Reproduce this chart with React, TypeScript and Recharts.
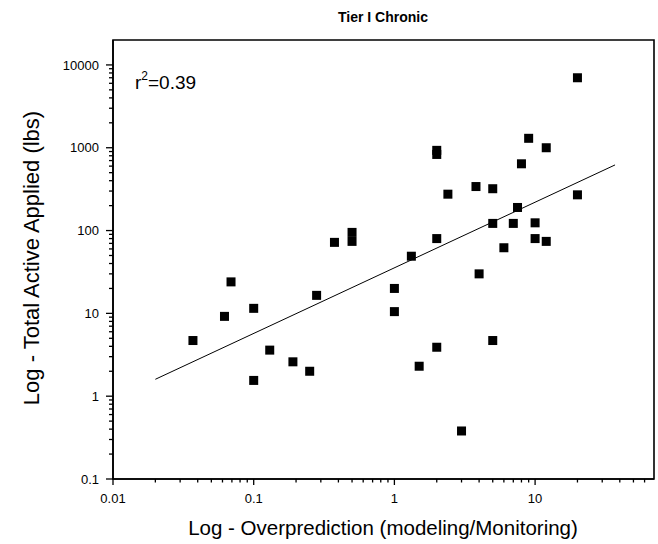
import React from "react";
import { ScatterChart, Scatter, XAxis, YAxis, ReferenceArea } from "recharts";

// Scatter data: overprediction ratio (x) vs total active applied, lbs (y)
const xVals = [
  0.037, 0.062, 0.069, 0.1, 0.1, 0.13, 0.19, 0.25, 0.28,
  0.375, 0.5, 0.5,
  20, 9, 12, 2, 2, 8, 3.8, 5, 2.4, 20, 7.5, 5, 7, 10, 2, 10, 12, 6, 1.32, 4,
  1, 1, 5, 2, 1.5, 3,
];
const yVals = [
  4.7, 9.2, 24, 11.5, 1.55, 3.6, 2.6, 2.0, 16.5,
  72, 95, 74,
  7000, 1300, 1000, 930, 830, 640, 340, 320, 275, 270, 190, 122, 122, 124, 80, 80, 74, 62, 49, 30,
  20, 10.5, 4.7, 3.9, 2.3, 0.38,
];

// Regression line end points
const fitX = [0.02, 37];
const fitY = [1.6, 620];

const xMajorTicks = [0.01, 0.1, 1, 10];
const xMinorTicks = [
  0.02, 0.03, 0.04, 0.05, 0.06, 0.07, 0.08, 0.09,
  0.2, 0.3, 0.4, 0.5, 0.6, 0.7, 0.8, 0.9,
  2, 3, 4, 5, 6, 7, 8, 9,
  20, 30, 40, 50, 60,
];
const yMajorTicks = [0.1, 1, 10, 100, 1000, 10000];
const yMinorTicks = [
  0.2, 0.3, 0.4, 0.5, 0.6, 0.7, 0.8, 0.9,
  2, 3, 4, 5, 6, 7, 8, 9,
  20, 30, 40, 50, 60, 70, 80, 90,
  200, 300, 400, 500, 600, 700, 800, 900,
  2000, 3000, 4000, 5000, 6000, 7000, 8000, 9000,
];

const xDomain = [0.01, 70];
const yDomain = [0.1, 20000];

const title = "Tier I Chronic";
const xTitle = "Log - Overprediction (modeling/Monitoring)";
const yTitle = "Log - Total Active Applied (lbs)";

const FONT = "'Liberation Sans', Arial, sans-serif";

const points = xVals.map((x, i) => ({ x, y: yVals[i] }));
const fitData = fitX.map((x, i) => ({ x, y: fitY[i] }));

const isMajor = (v: number, list: number[]) =>
  list.some((m) => Math.abs(m - v) / m < 1e-6);

const XTick = (props: any) => {
  const { x, y, payload } = props;
  const major = isMajor(payload.value, xMajorTicks);
  return (
    <g>
      <line x1={x} x2={x} y1={y} y2={y + (major ? 6 : 3.5)} stroke="#000" strokeWidth={1.3} />
      {major && (
        <text x={x} y={y + 24} textAnchor="middle" fontSize={13} fontFamily={FONT} fill="#000">
          {String(payload.value)}
        </text>
      )}
    </g>
  );
};

const YTick = (props: any) => {
  const { x, y, payload } = props;
  const major = isMajor(payload.value, yMajorTicks);
  return (
    <g>
      <line x1={x} x2={x - (major ? 7 : 4)} y1={y} y2={y} stroke="#000" strokeWidth={1.3} />
      {major && (
        <text x={x - 14} y={y} dy="0.36em" textAnchor="end" fontSize={13} fontFamily={FONT} fill="#000">
          {String(payload.value)}
        </text>
      )}
    </g>
  );
};

const Square = (props: any) => {
  const { cx, cy } = props;
  if (cx == null || cy == null) return <g />;
  return <rect x={cx - 4.5} y={cy - 4.5} width={9} height={9} fill="#000" />;
};

const NoShape = () => <g />;

export default function App() {
  return (
    <div style={{ position: "absolute", left: 0, top: 0, width: 658, height: 544, background: "#fff" }}>
      <ScatterChart
        width={658}
        height={544}
        margin={{ top: 40, right: 4, bottom: 0, left: 0 }}
      >
        <XAxis
          type="number"
          dataKey="x"
          scale="log"
          domain={xDomain}
          allowDataOverflow
          ticks={[...xMajorTicks, ...xMinorTicks].sort((a, b) => a - b)}
          interval={0}
          tick={<XTick />}
          tickLine={false}
          tickSize={0}
          tickMargin={0}
          height={65}
          axisLine={{ stroke: "#000", strokeWidth: 1.6 }}
        />
        <YAxis
          type="number"
          dataKey="y"
          scale="log"
          domain={yDomain}
          allowDataOverflow
          ticks={[...yMajorTicks, ...yMinorTicks].sort((a, b) => a - b)}
          interval={0}
          tick={<YTick />}
          tickLine={false}
          tickSize={0}
          tickMargin={0}
          width={113}
          axisLine={{ stroke: "#000", strokeWidth: 1.6 }}
        />
        <ReferenceArea
          x1={xDomain[0]}
          x2={xDomain[1]}
          y1={yDomain[0]}
          y2={yDomain[1]}
          fill="none"
          stroke="#000"
          strokeWidth={1.6}
          fillOpacity={0}
        />
        <Scatter
          data={fitData}
          line={{ stroke: "#000", strokeWidth: 1 }}
          shape={<NoShape />}
          isAnimationActive={false}
        />
        <Scatter data={points} shape={<Square />} isAnimationActive={false} />
      </ScatterChart>
      <svg
        width={658}
        height={544}
        style={{ position: "absolute", left: 0, top: 0, pointerEvents: "none" }}
      >
        <text x={383} y={22} textAnchor="middle" fontSize={14} fontWeight="bold" fontFamily={FONT} fill="#000">
          {title}
        </text>
        <text x={383} y={535} textAnchor="middle" fontSize={20.5} fontFamily={FONT} fill="#000">
          {xTitle}
        </text>
        <text
          x={39}
          y={258}
          textAnchor="middle"
          fontSize={22}
          fontFamily={FONT}
          fill="#000"
          transform="rotate(-90 39 258)"
        >
          {yTitle}
        </text>
        <text x={135} y={89} fontSize={19} fontFamily={FONT} fill="#000">
          r<tspan dy={-9} fontSize={12}>2</tspan>
          <tspan dy={9}>=0.39</tspan>
        </text>
      </svg>
    </div>
  );
}
